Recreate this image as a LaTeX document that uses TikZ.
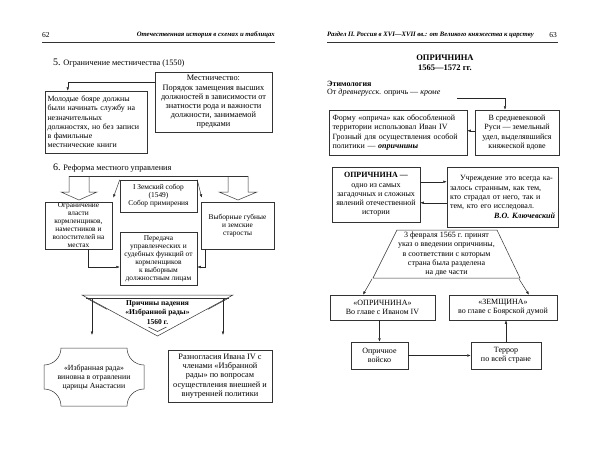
\documentclass[tikz,border=0pt]{standalone}
\usepackage{fontspec}
\setmainfont{Liberation Serif}
\usetikzlibrary{arrows.meta,calc}
\newcommand\txtsz{\fontsize{8.3}{9.2}\selectfont}
\newcommand\smsz{\fontsize{7.4}{8}\selectfont}
\newcommand\rsz{\fontsize{8}{9.3}\selectfont}
\newcommand\hdsz{\fontsize{6.7}{8}\selectfont\bfseries\itshape}
\begin{document}
\begin{tikzpicture}[x=1pt,y=-1pt,
  box/.style={draw=black!80, line width=0.5pt, inner sep=1pt, align=center, font=\txtsz},
  arr/.style={-{Latex[length=3.5pt,width=2.6pt]}, line width=0.45pt, draw=black!85},
  ln/.style={line width=0.5pt, draw=black!80},
  plain/.style={inner sep=0pt, align=center}]
\useasboundingbox (0,0) rectangle (600,466);
\fill[white] (0,0) rectangle (600,466);

% ---------- left page header
\node[plain, anchor=west, font=\fontsize{7.5}{8}\selectfont] (p62) at (42,35) {62};
\node[plain, anchor=east, font=\hdsz] (hl) at (275,35) {Отечественная история в схемах и таблицах};
\draw[line width=0.7pt, black!80] (42,42) -- (275,42);

% ---------- section 5
\node[plain, anchor=west, font=\txtsz] (s5) at (53,63) {{\fontsize{10}{10}\selectfont 5.} Ограничение местничества (1550)};
\node[box, minimum width=117pt, minimum height=60pt] (mest) at (213.5,102)
  {Местничество:\\Порядок замещения высших\\должностей в зависимости от\\знатности рода и важности\\должности, занимаемой\\предками};
\node[box, font=\fontsize{7.9}{9.2}\selectfont, minimum width=102pt, minimum height=62pt, text width=97pt, align=left] (mol) at (96,122)
  {Молодые бояре должны\\были начинать службу на\\незначительных\\должностях, но без записи\\в фамильные\\местнические книги};
\draw[arr] ([yshift=-10pt]mest.north west) -| ([xshift=23pt]mol.north west);

% ---------- section 6
\node[plain, anchor=west, font=\txtsz] (s6) at (53,168) {{\fontsize{10}{10}\selectfont 6.} Реформа местного управления};
\draw[ln] (69,176) -- (248,176);
\draw[ln] (69,176) -- (69,192) -- (61,192) -- (79,200) -- (97,192) -- (89,192) -- (89,176);
\draw[ln] (228,176) -- (228,192) -- (219,192) -- (238,200) -- (257,192) -- (248,192) -- (248,176);

\node[box, font=\smsz, minimum width=77pt, minimum height=32pt] (sobor) at (158.5,196)
  {I Земский собор\\(1549)\\Собор примирения};
\node[box, font=\smsz, minimum width=67pt, minimum height=47pt] (ogr) at (78.5,225.5)
  {Ограничение\\власти\\кормленщиков,\\наместников и\\волостителей на\\местах};
\node[box, font=\smsz, minimum width=73pt, minimum height=47pt] (vyb) at (237.5,225.5)
  {Выборные губные\\и земские\\старосты};
\node[box, font=\smsz, minimum width=77pt, minimum height=53pt] (per) at (158.5,258.5)
  {Передача\\управленческих и\\судебных функций от\\кормленщиков\\к выборным\\должностным лицам};
\draw[arr] (sobor.north west) -- ([shift={(1pt,4pt)}]ogr.north east);
\draw[arr] (sobor.north east) -- ([shift={(1pt,4pt)}]vyb.north west);
\draw[arr] ([xshift=9.5pt]ogr.south) |- ([yshift=-8.5pt]per.west);
\draw[arr] ([xshift=-32.5pt]vyb.south) |- ([yshift=-8.5pt]per.east);

% ---------- triangle
\draw[ln] (82,295) -- (233,295) -- (157.5,336) -- cycle;
\draw[ln] (86,298.5) -- (229,298.5);
\draw[ln] (88,299) -- (107,309.3);
\draw[ln] (227,299) -- (208,309.3);
\draw[ln] (148.5,327) -- (157.5,331.5) -- (166.5,327);
\node[plain, font=\fontsize{7.5}{9.5}\selectfont\bfseries] (prich) at (157.5,312.5) {Причины падения\\«Избранной рады»\\1560 г.};
\coordinate (trl) at (92,298.5);
\coordinate (trle) at (92,335);
\coordinate (trr) at (223,298.5);
\coordinate (trre) at (223,335);
\draw[arr] (trl) -- (trle);
\draw[arr] (trr) -- (trre);

% ---------- cross box
\draw[ln] (61,348) -- (127,348) arc[start angle=180,end angle=90,radius=17]
  -- (144,389) arc[start angle=270,end angle=180,radius=17]
  -- (61,406) arc[start angle=360,end angle=270,radius=17]
  -- (44,365) arc[start angle=90,end angle=0,radius=17] -- cycle;
\node[plain, font=\fontsize{7.8}{9}\selectfont] (izb) at (94,378) {«Избранная рада»\\виновна в отравлении\\царицы Анастасии};
\node[box, minimum width=104pt, minimum height=52pt] (razn) at (220,376)
  {Разногласия Ивана IV с\\членами «Избранной\\рады» по вопросам\\осуществления внешней и\\внутренней политики};

% ---------- right page header
\node[plain, anchor=west, font=\hdsz] (hr) at (327,35) {Раздел II. Россия в XVI—XVII вв.: от Великого княжества к царству};
\node[plain, anchor=east, font=\fontsize{7.5}{8}\selectfont] (p63) at (557,35) {63};
\draw[line width=0.7pt, black!80] (327,42) -- (558,42);

\node[plain, font=\fontsize{8.5}{10}\selectfont\bfseries] (title) at (445,63) {ОПРИЧНИНА\\1565—1572 гг.};
\node[plain, anchor=west, font=\rsz\bfseries] (etyh) at (327,84) {Этимология};
\node[plain, anchor=west, font=\rsz] (ety) at (327,93) {От \textit{древнерусск.} опричь — \textit{кроме}};

\node[box, font=\rsz, minimum width=138pt, minimum height=45pt, text width=131pt, align=left] (forma) at (398,132.5)
  {Форму «оприча» как обособленной\\территории использовал Иван IV\\Грозный для осуществления особой\\политики — \textbf{\textit{опричнины}}};
\node[box, font=\rsz, minimum width=84pt, minimum height=45pt] (sred) at (517,132.5)
  {В средневековой\\Руси — земельный\\удел, выделявшийся\\княжеской вдове};
\coordinate (etyend) at (457,98);
\draw[arr] (etyend) -| ([xshift=-12pt]sred.north);
\draw[arr] ([yshift=-21pt]sred.north west) -- ([yshift=-21pt]forma.north east);

\node[box, font=\rsz, minimum width=88pt, minimum height=55pt] (opr) at (376,194.5)
  {\textbf{ОПРИЧНИНА —}\\одно из самых\\загадочных и сложных\\явлений отечественной\\истории};
\node[box, font=\rsz, minimum width=111pt, minimum height=60pt, text width=105pt, align=left] (uchr) at (502.5,197)
  {\makebox[105pt][s]{\hspace*{10pt}Учреждение это всегда ка-}\\
   \makebox[105pt][s]{залось странным, как тем,}\\
   \makebox[105pt][s]{кто страдал от него, так и}\\
   тем, кто его исследовал.\\
   \makebox[105pt][r]{\textbf{\textit{В.О. Ключевский}}}};
\draw[arr] ([yshift=-15pt]opr.north east) -- ([yshift=-15pt]uchr.north west);
\draw[arr] ([yshift=-36pt]uchr.north west) -- ([yshift=-36pt]opr.north east);

% trapezoid
\draw[ln] (397,230) -- (497,230) -- (520,278) -- (373,278) -- cycle;
\node[plain, font=\rsz] (ukaz) at (446.5,254) {3 февраля 1565 г. принят\\указ о введении опричнины,\\в соответствии с которым\\страна была разделена\\на две части};
\coordinate (tbl) at (372,279);
\coordinate (tbr) at (519,279);

\node[box, font=\rsz, minimum width=105pt, minimum height=25pt] (oprn) at (382.5,307.5) {«ОПРИЧНИНА»\\Во главе с Иваном IV};
\node[box, font=\rsz, minimum width=108pt, minimum height=25pt] (zem) at (503,307.5) {«ЗЕМЩИНА»\\во главе с Боярской думой};
\draw[arr] (tbl) -- ([xshift=-19.5pt]oprn.north);
\draw[arr] (tbr) -- ([xshift=26pt]zem.north);

\node[box, font=\rsz, minimum width=57pt, minimum height=27pt] (voy) at (379.5,355.5) {Опричное\\войско};
\node[box, font=\rsz, minimum width=70pt, minimum height=27pt] (ter) at (506,355.5) {Террор\\по всей стране};
\draw[arr] (voy.north |- oprn.south) -- (voy.north);
\draw[arr] (voy.east) -- (ter.west);
\draw[arr] (ter.north) -- (ter.north |- zem.south);
\end{tikzpicture}
\end{document}
